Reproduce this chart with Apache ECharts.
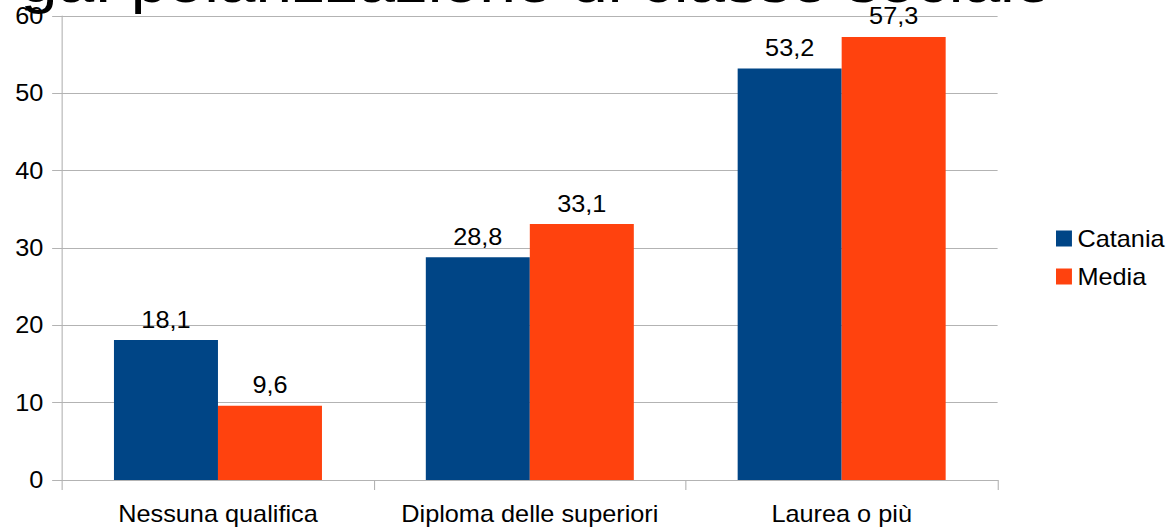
<!DOCTYPE html>
<html>
<head>
<meta charset="utf-8">
<script src="https://cdn.jsdelivr.net/npm/echarts@6/dist/echarts.min.js"></script>
<style>
  html, body { margin: 0; padding: 0; overflow: hidden; background: #fff; }
  /* il grafico originale è un po' stirato in orizzontale: lo ricreo così */
  #chart { width: 1065.5px; height: 528px; transform: scaleX(1.1); transform-origin: 0 0; }
</style>
</head>
<body>
<div id="chart"></div>
<script>
// dati
const categorie = ['Nessuna qualifica', 'Diploma delle superiori', 'Laurea o più'];
const catania = [18.1, 28.8, 53.2];
const media = [9.6, 33.1, 57.3];
const yTicks = [0, 10, 20, 30, 40, 50, 60];

const chart = echarts.init(document.getElementById('chart'), null, { renderer: 'svg' });

const font = 'Liberation Sans';
const grigio = '#b3b3b3';

// etichette con la virgola decimale
const etichetta = {
    show: true,
    position: 'top',
    distance: 9,
    fontFamily: font,
    fontSize: 23,
    color: '#000',
    formatter: p => String(p.value).replace('.', ',')
};

const option = {
    animation: false,
    title: {
        text: 'ga: polarizzazione di classe sociale',
        right: 110,
        top: -49,
        padding: 0,
        textStyle: { fontFamily: font, fontSize: 60, fontWeight: 'normal', color: '#000' }
    },
    legend: {
        orient: 'vertical',
        left: 960,
        top: 227,
        padding: 0,
        itemWidth: 14.5,
        itemHeight: 16,
        itemGap: 15,
        icon: 'rect',
        textStyle: { fontFamily: font, fontSize: 23, color: '#000' },
        data: ['Catania', 'Media']
    },
    grid: { left: 56.4, right: 159.1, top: 16, bottom: 48 },
    xAxis: {
        type: 'category',
        data: categorie,
        axisLine: { lineStyle: { color: grigio, width: 1 } },
        axisTick: { show: true, length: 10, lineStyle: { color: grigio } },
        axisLabel: { interval: 0, fontFamily: font, fontSize: 23, color: '#000', margin: 22 }
    },
    yAxis: {
        type: 'value',
        min: yTicks[0],
        max: yTicks[yTicks.length - 1],
        interval: 10,
        axisLine: { show: true, lineStyle: { color: grigio, width: 1 } },
        axisTick: { show: true, length: 9, lineStyle: { color: grigio } },
        splitLine: { lineStyle: { color: grigio, width: 1 } },
        axisLabel: { fontFamily: font, fontSize: 23, color: '#000', margin: 17 }
    },
    series: [
        {
            name: 'Catania',
            type: 'bar',
            data: catania,
            barGap: '0%',
            barCategoryGap: '33.3%',
            itemStyle: { color: '#004586' },
            label: etichetta
        },
        {
            name: 'Media',
            type: 'bar',
            data: media,
            barGap: '0%',
            barCategoryGap: '33.3%',
            itemStyle: { color: '#ff420e' },
            label: etichetta
        }
    ]
};

chart.setOption(option);
</script>
</body>
</html>
